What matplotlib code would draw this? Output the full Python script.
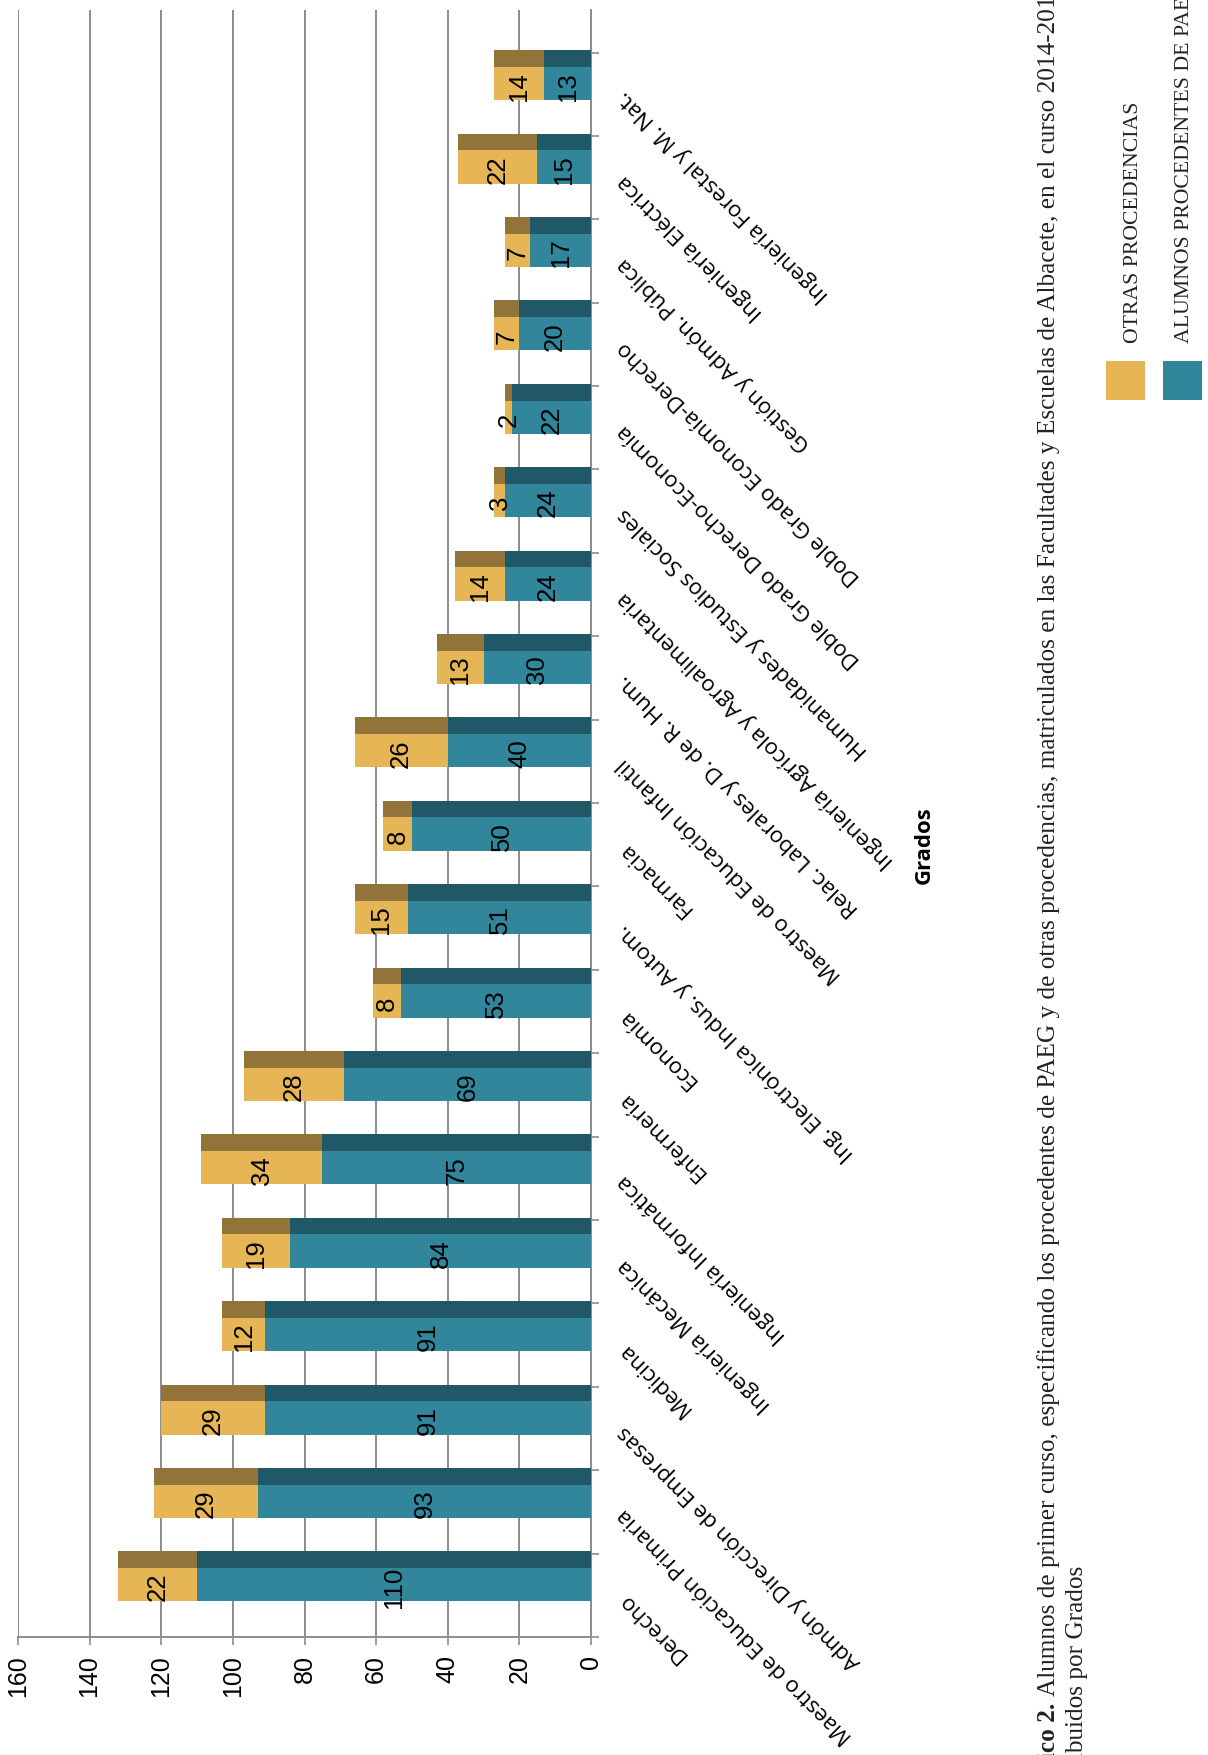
import matplotlib
matplotlib.use('Agg')
import matplotlib.pyplot as plt
import matplotlib.transforms as mtransforms
import numpy as np

# ---------------- data ----------------
categories = [
    "Derecho",
    "Maestro de Educación Primaria",
    "Admón y Dirección de Empresas",
    "Medicina",
    "Ingeniería Mecánica",
    "Ingeniería Informática",
    "Enfermería",
    "Economía",
    "Ing. Electrónica Indus. y Autom.",
    "Farmacia",
    "Maestro de Educación Infantil",
    "Relac. Laborales y D. de R. Hum.",
    "Ingeniería Agrícola y Agroalimentaria",
    "Humanidades y Estudios Sociales",
    "Doble Grado Derecho-Economía",
    "Doble Grado Economía-Derecho",
    "Gestión y Admón. Pública",
    "Ingeniería Eléctrica",
    "Ingeniería Forestal y M. Nat.",
]
paeg = [110, 93, 91, 91, 84, 75, 69, 53, 51, 50, 40, 30, 24, 24, 22, 20, 17, 15, 13]
otras = [22, 29, 29, 12, 19, 34, 28, 8, 15, 8, 26, 13, 14, 3, 2, 7, 7, 22, 14]
xticks = [0, 20, 40, 60, 80, 100, 120, 140, 160]
axis_title = "Grados"
legend_labels = ["OTRAS PROCEDENCIAS", "ALUMNOS PROCEDENTES DE PAEG"]
caption_bold_hidden = "Gráfi"
caption_bold = "Gráfico 2."
caption_rest = ("Alumnos de primer curso, especificando los procedentes de PAEG y de otras "
                "procedencias, matriculados en las Facultades y Escuelas de Albacete, en el curso 2014-2015,")
caption_line2_hidden = "distri"
caption_line2 = "distribuidos por Grados"

# ---------------- style ----------------
BLUE, BLUE_D = "#31869B", "#215867"
GOLD, GOLD_D = "#E6B556", "#92733A"
GRID = "#8c8c8c"
W, H = 1208, 1755

fig = plt.figure(figsize=(W / 100, H / 100), dpi=100)
fig.patch.set_facecolor("white")
ax = fig.add_axes([18 / W, (H - 1637) / H, (591 - 18) / W, (1637 - 10) / H])

n = len(categories)
y = np.arange(n)
paeg_a = np.array(paeg)
otras_a = np.array(otras)
front_off, front_h = -0.073, 0.40
top_off, top_h = 0.327, 0.20

ax.barh(y + front_off, paeg_a, height=front_h, align="edge", color=BLUE, lw=0, zorder=3)
ax.barh(y + front_off, otras_a, left=paeg_a, height=front_h, align="edge", color=GOLD, lw=0, zorder=3)
ax.barh(y + top_off, paeg_a, height=top_h, align="edge", color=BLUE_D, lw=0, zorder=3)
ax.barh(y + top_off, otras_a, left=paeg_a, height=top_h, align="edge", color=GOLD_D, lw=0, zorder=3)

for i in range(n):
    ax.text(paeg_a[i] / 2, i + front_off + front_h / 2 - 0.03, str(paeg_a[i]), rotation=90,
            ha="center", va="center", fontsize=18.5, family="Liberation Sans", zorder=4)
    ax.text(paeg_a[i] + otras_a[i] / 2, i + front_off + front_h / 2 - 0.03, str(otras_a[i]), rotation=90,
            ha="center", va="center", fontsize=18.5, family="Liberation Sans", zorder=4)

ax.set_xlim(160, 0)
ax.set_ylim(-0.5, 19.01)
ax.set_xticks(xticks)
ax.set_xticklabels([str(t) for t in xticks], rotation=90, fontsize=18, family="Liberation Sans")
ax.xaxis.grid(True, color=GRID, lw=1.4, zorder=0)
ax.set_axisbelow(True)
ax.yaxis.tick_right()
ax.set_yticks(np.arange(-0.5, n, 1.0))
ax.set_yticklabels([])
ax.tick_params(axis="y", direction="out", length=6, width=1.2, color=GRID)
ax.tick_params(axis="x", direction="out", length=6, width=1.2, color=GRID, pad=7)
for s in ["top", "left"]:
    ax.spines[s].set_visible(False)
for s in ["right", "bottom"]:
    ax.spines[s].set_color(GRID)
    ax.spines[s].set_linewidth(1.4)

# category labels (rotated, upside down as in the reference)
base = mtransforms.blended_transform_factory(ax.transAxes, ax.transData)
off = mtransforms.ScaledTranslation(30 / 100, 0, fig.dpi_scale_trans)
for i, c in enumerate(categories):
    ax.text(1.0, i, c, transform=base + off, rotation=135, rotation_mode="anchor",
            ha="right", va="center", fontsize=16, family="Open Sans", clip_on=False)

fig.text(924 / W, 1 - 845 / H, axis_title, rotation=90, ha="center", va="center",
         fontsize=16, fontweight="bold", family="Open Sans")

# legend
fig.patches.append(plt.Rectangle((1106 / W, 1 - 400 / H), 39 / W, 39 / H, transform=fig.transFigure,
                                 color=GOLD, lw=0))
fig.patches.append(plt.Rectangle((1163 / W, 1 - 400 / H), 39 / W, 39 / H, transform=fig.transFigure,
                                 color=BLUE, lw=0))
fig.text(1138 / W, 1 - 343 / H, legend_labels[0], rotation=90, rotation_mode="anchor",
         ha="left", va="baseline", fontsize=15.7, family="Liberation Serif", color="#222222")
fig.text(1189 / W, 1 - 343 / H, legend_labels[1], rotation=90, rotation_mode="anchor",
         ha="left", va="baseline", fontsize=15.7, family="Liberation Serif", color="#222222")

# caption (partly cut by the page edge, as in the reference)
renderer = fig.canvas.get_renderer()


def tw(s, **kw):
    t = fig.text(0, 0, s, **kw)
    w = t.get_window_extent(renderer).width
    t.remove()
    return w


CAP = dict(family="Liberation Serif", fontsize=18.2)
w_hidden = tw(caption_bold_hidden, fontweight="bold", **CAP)
w_bold = tw(caption_bold, fontweight="bold", **CAP)
w_space = tw("a a", **CAP) - tw("aa", **CAP)
y0 = 3 - w_hidden  # display px from bottom
fig.text(1055 / W, y0 / H, caption_bold, rotation=90, rotation_mode="anchor", ha="left",
         va="baseline", fontweight="bold", color="#222222", **CAP)
fig.text(1055 / W, (y0 + w_bold + w_space) / H, caption_rest, rotation=90, rotation_mode="anchor",
         ha="left", va="baseline", color="#222222", **CAP)
w_hidden2 = tw(caption_line2_hidden, **CAP)
fig.text(1083 / W, (3 - w_hidden2) / H, caption_line2, rotation=90, rotation_mode="anchor",
         ha="left", va="baseline", color="#222222", **CAP)

fig.savefig("out.png", dpi=100, facecolor="white")
